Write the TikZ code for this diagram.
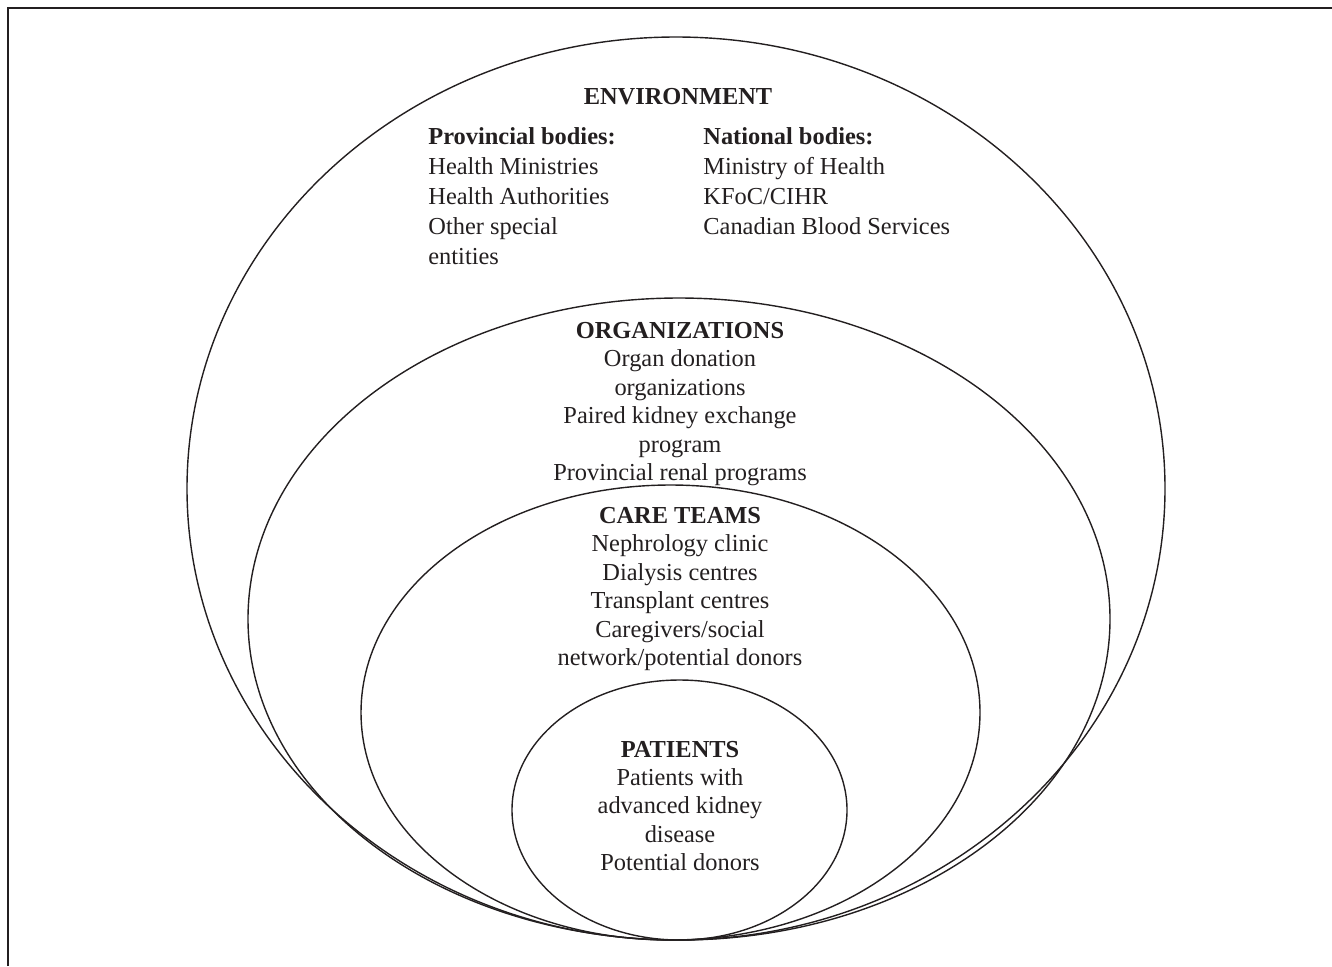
\documentclass[tikz,border=0pt]{standalone}
\usepackage{fontspec}
\setmainfont{Liberation Serif}
\usetikzlibrary{positioning,shapes.geometric}
\definecolor{ecInk}{RGB}{35,31,32}

\tikzset{
  ring/.style={draw=ecInk, ellipse, line width=0.7pt, inner sep=0pt},
  layer/.style={text=ecInk, align=center, inner sep=0pt, font=\fontsize{12.2}{14.2}\selectfont},
  column/.style={text=ecInk, align=left, inner sep=0pt, anchor=west, font=\fontsize{12.2}{15}\selectfont}
}

\begin{document}
\begin{tikzpicture}[x=0.5pt, y=-0.5pt]
  \useasboundingbox (0,0) rectangle (1332,966);

  % Frame
  \draw[ecInk, line width=1pt] (8,966) -- (8,8) -- (1332,8);

  % Nested ellipses, all touching at the bottom
  \node[ring, minimum width=489pt, minimum height=451.5pt] (env) at (676,488.5) {};
  \node[ring, minimum width=431pt, minimum height=321pt] (org) at (679,619) {};
  \node[ring, minimum width=309.5pt, minimum height=227.5pt] (care) at (670.5,712.5) {};
  \node[ring, minimum width=167.5pt, minimum height=130pt] (pat) at (679.5,810) {};

  % Environment
  \node[layer] (envtitle) at (678,97) {\textbf{ENVIRONMENT}};
  \node[column] (prov) at (428,196) {\textbf{Provincial bodies:}\\Health Ministries\\Health Authorities\\Other special\\entities};
  \node[column] (natl) at (703,181) {\textbf{National bodies:}\\Ministry of Health\\KFoC/CIHR\\Canadian Blood Services};

  % Organizations
  \node[layer] (orgtext) at (680,404) {\textbf{ORGANIZATIONS}\\Organ donation\\organizations\\Paired kidney exchange\\program\\Provincial renal programs};

  % Care teams
  \node[layer] (caretext) at (680,589) {\textbf{CARE TEAMS}\\Nephrology clinic\\Dialysis centres\\Transplant centres\\Caregivers/social\\network/potential donors};

  % Patients
  \node[layer] (pattext) at (680,806) {\textbf{PATIENTS}\\Patients with\\advanced kidney\\disease\\Potential donors};
\end{tikzpicture}
\end{document}
